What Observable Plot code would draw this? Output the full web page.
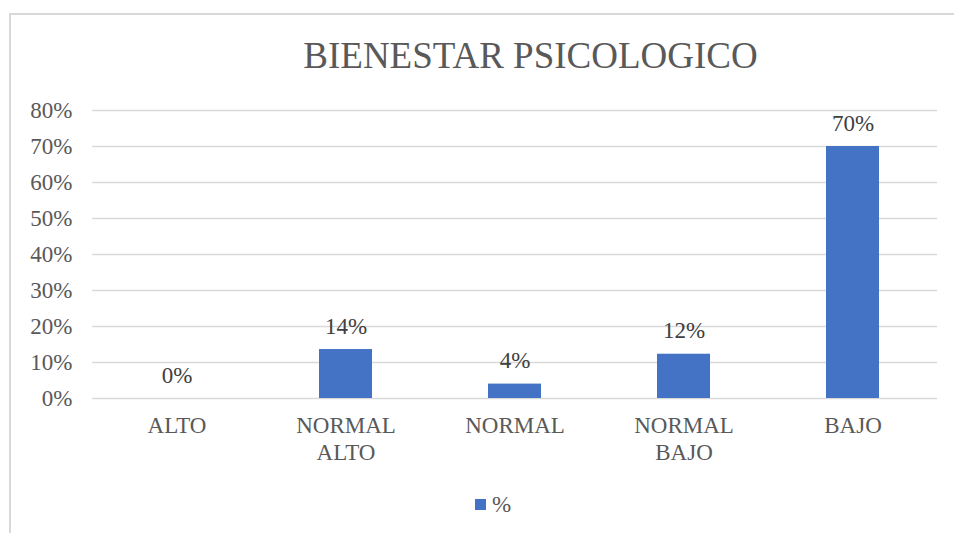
<!DOCTYPE html>
<html>
<head>
<meta charset="utf-8">
<script src="https://cdn.jsdelivr.net/npm/d3@7"></script>
<script src="https://cdn.jsdelivr.net/npm/@observablehq/plot@0.6"></script>
<style>
  body { margin: 0; background: #fff; width: 954px; height: 533px; overflow: hidden; position: relative; font-family: "Liberation Serif", "Times New Roman", serif; }
  #frame { position: absolute; left: 9px; top: 13px; width: 1000px; height: 600px; border-left: 2px solid #d9d9d9; border-top: 2px solid #d9d9d9; }
  #title { position: absolute; left: 530.5px; top: 36.7px; transform: translateX(-50%); white-space: nowrap; font-size: 37px; line-height: 37px; color: #595959; }
  #chart { position: absolute; left: 0; top: 90px; }
  #legend-swatch { position: absolute; left: 475px; top: 499px; width: 11px; height: 11px; background: #4472C4; }
  #legend-text { position: absolute; left: 492px; top: 492.7px; font-size: 23px; line-height: 23px; color: #595959; }
</style>
</head>
<body>
<div id="frame"></div>
<div id="title">BIENESTAR PSICOLOGICO</div>
<div id="chart"></div>
<div id="legend-swatch"></div>
<div id="legend-text">%</div>
<script>
const categories = ["ALTO", "NORMAL ALTO", "NORMAL", "NORMAL BAJO", "BAJO"];
const tickLabels = ["ALTO", "NORMAL\nALTO", "NORMAL", "NORMAL\nBAJO", "BAJO"];
const values = [0, 13.6, 4.0, 12.3, 70];
const yTicks = [0, 10, 20, 30, 40, 50, 60, 70, 80];
const seriesName = "%";

const data = categories.map((c, i) => ({cat: c, value: values[i]}));

const chart = Plot.plot({
  width: 954,
  height: 378,
  marginTop: 20,
  marginBottom: 70,
  marginLeft: 92,
  marginRight: 17,
  style: {fontFamily: "Liberation Serif, Times New Roman, serif", fontSize: "23px", color: "#595959", background: "transparent", overflow: "visible"},
  x: {domain: categories, padding: 0, axis: null},
  y: {domain: [0, 80], axis: null},
  marks: [
    Plot.ruleY(yTicks, {stroke: "#d9d9d9", strokeWidth: 1.5}),
    Plot.barY(data, {x: "cat", y: "value", fill: "#4472C4", insetLeft: 58, insetRight: 58}),
    Plot.text(data, {x: "cat", y: "value", text: d => Math.round(d.value) + "%", lineAnchor: "bottom", dy: -16, fill: "#404040"}),
    Plot.axisY({ticks: yTicks, tickSize: 0, tickPadding: 20, tickFormat: d => d + "%", fill: "#595959", label: null}),
    Plot.axisX({tickSize: 0, tickPadding: 15, tickFormat: d => tickLabels[categories.indexOf(d)], lineHeight: 1.17, fill: "#595959", label: null})
  ]
});
document.getElementById("chart").appendChild(chart);
document.getElementById("legend-text").textContent = seriesName;
</script>
</body>
</html>
